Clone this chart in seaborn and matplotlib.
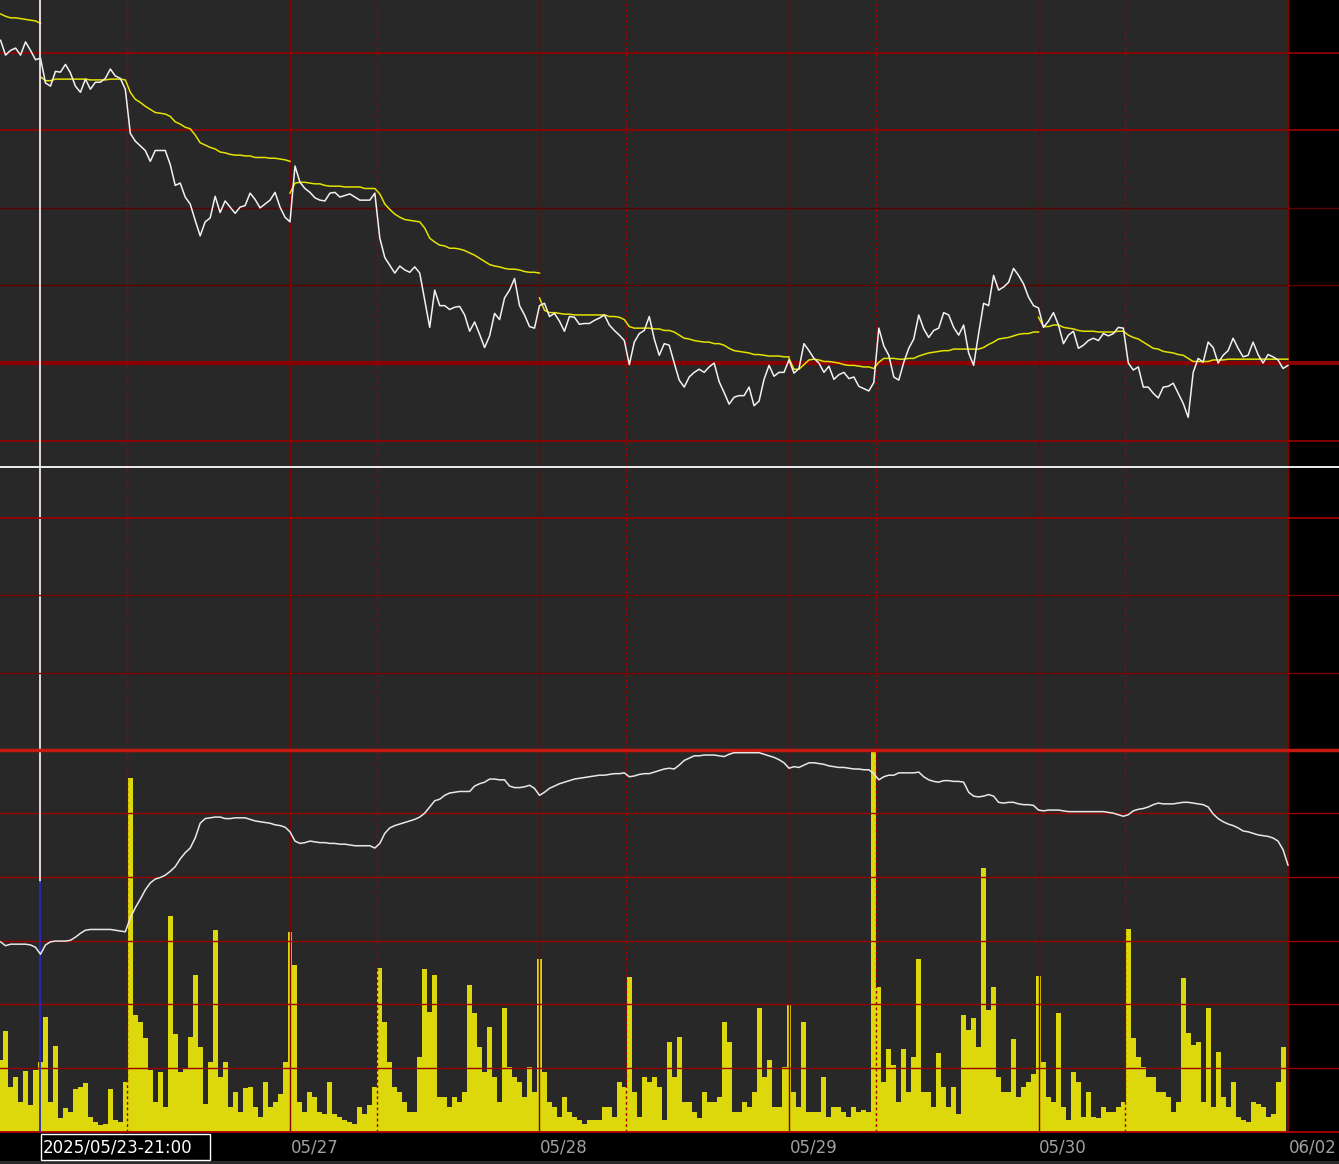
import numpy as np
import pandas as pd
import matplotlib
matplotlib.use("Agg")
import matplotlib.pyplot as plt
from matplotlib.patches import Rectangle
import seaborn as sns

# ---- data, 50 samples per session day ----
# price (white), starts 8 samples before the 05/26 session open
price = [37616, 37597, 37603, 37606, 37597, 37614, 37603, 37591, 37593,
         37561, 37557, 37576, 37575, 37585, 37574, 37557, 37549, 37566, 37553,
         37562, 37562, 37567, 37579, 37570, 37567, 37553, 37496, 37486, 37480,
         37474, 37460, 37474, 37474, 37474, 37456, 37429, 37432, 37414, 37405,
         37384, 37364, 37382, 37387, 37415, 37394, 37409, 37401, 37393, 37401,
         37403, 37419, 37411, 37400, 37405, 37410, 37420, 37401, 37388, 37382,
         37454, 37433, 37425, 37420, 37413, 37410, 37409, 37419, 37420, 37414,
         37416, 37418, 37414, 37410, 37410, 37410, 37419, 37361, 37336, 37326,
         37316, 37325, 37320, 37317, 37324, 37316, 37281, 37246, 37294, 37274,
         37274, 37269, 37272, 37273, 37262, 37241, 37253, 37237, 37220, 37235,
         37264, 37256, 37284, 37294, 37309, 37274, 37262, 37247, 37245, 37274,
         37277, 37260, 37264, 37254, 37241, 37260, 37259, 37250, 37251, 37251,
         37255, 37258, 37262, 37249, 37242, 37236, 37229, 37198, 37227, 37238,
         37242, 37260, 37231, 37210, 37225, 37223, 37200, 37178, 37169, 37182,
         37188, 37192, 37188, 37195, 37200, 37176, 37162, 37147, 37156, 37158,
         37158, 37169, 37145, 37151, 37179, 37197, 37183, 37188, 37188, 37204,
         37187, 37193, 37225, 37216, 37206, 37200, 37188, 37196, 37179, 37185,
         37188, 37180, 37182, 37170, 37167, 37164, 37175, 37245, 37222, 37210,
         37182, 37178, 37201, 37219, 37231, 37262, 37244, 37233, 37242, 37245,
         37265, 37262, 37246, 37236, 37249, 37213, 37197, 37238, 37277, 37274,
         37313, 37294, 37298, 37304, 37322, 37313, 37302, 37285, 37274, 37271,
         37246, 37254, 37265, 37249, 37225, 37236, 37241, 37219, 37223, 37229,
         37232, 37229, 37238, 37235, 37238, 37246, 37245, 37200, 37191, 37195,
         37169, 37169, 37161, 37155, 37169, 37170, 37174, 37161, 37148, 37130,
         37188, 37206, 37201, 37227, 37220, 37200, 37210, 37216, 37232, 37219,
         37208, 37210, 37227, 37211, 37200, 37211, 37208, 37204, 37193, 37197]

# session VWAP (yellow), one list per session, first sample index in vwap_start
vwap_0523 = [37650, 37647, 37645, 37645, 37644, 37643, 37642, 37641, 37638]
vwap_0526 = [37569, 37564, 37564, 37566, 37566, 37566, 37566, 37566, 37566, 37566,
             37565, 37565, 37565, 37565, 37566, 37566, 37566, 37565, 37549, 37540,
             37536, 37531, 37527, 37523, 37522, 37521, 37518, 37511, 37508, 37504,
             37502, 37494, 37484, 37481, 37478, 37476, 37472, 37471, 37469, 37468,
             37468, 37467, 37467, 37465, 37465, 37465, 37464, 37464, 37463, 37462, 37460]
vwap_0527 = [37419, 37432, 37433, 37433, 37432, 37431, 37431, 37429, 37428, 37428,
             37428, 37427, 37427, 37427, 37427, 37425, 37425, 37425, 37418, 37405,
             37398, 37392, 37388, 37385, 37384, 37383, 37382, 37374, 37361, 37356,
             37352, 37351, 37348, 37348, 37347, 37345, 37342, 37339, 37335, 37331,
             37327, 37325, 37324, 37322, 37321, 37321, 37320, 37318, 37317, 37317, 37316]
vwap_0528 = [37284, 37268, 37265, 37265, 37264, 37263, 37263, 37262, 37262, 37262,
             37262, 37262, 37262, 37262, 37260, 37260, 37259, 37256, 37247, 37245,
             37245, 37245, 37245, 37244, 37244, 37242, 37242, 37240, 37236, 37232,
             37231, 37229, 37228, 37227, 37227, 37225, 37225, 37223, 37219, 37216,
             37215, 37214, 37213, 37211, 37211, 37210, 37209, 37209, 37209, 37208, 37208]
vwap_0529 = [37206, 37192, 37192, 37198, 37204, 37205, 37204, 37202, 37202, 37201,
             37200, 37198, 37197, 37197, 37196, 37195, 37195, 37193, 37201, 37206,
             37206, 37206, 37205, 37205, 37206, 37206, 37209, 37211, 37213, 37214,
             37215, 37216, 37216, 37218, 37218, 37218, 37218, 37218, 37218, 37220,
             37224, 37227, 37231, 37232, 37233, 37235, 37237, 37238, 37238, 37240, 37240]
vwap_0530 = [37259, 37247, 37247, 37249, 37249, 37246, 37245, 37244, 37242, 37241,
             37241, 37241, 37240, 37240, 37240, 37240, 37241, 37241, 37236, 37233,
             37231, 37227, 37223, 37219, 37218, 37215, 37214, 37213, 37211, 37210,
             37206, 37202, 37202, 37202, 37202, 37204, 37204, 37204, 37205, 37205,
             37205, 37205, 37205, 37205, 37205, 37205, 37205, 37205, 37205, 37205, 37205]
vwap_sessions = [vwap_0523, vwap_0526, vwap_0527, vwap_0528, vwap_0529, vwap_0530]
vwap_start = [-8, 0, 50, 100, 150, 200]

# white line of the lower pane
oi = [253, 248, 250, 250, 250, 250, 249, 246, 237,
      249, 253, 254, 254, 254, 255, 259, 264, 268, 269,
      269, 269, 269, 269, 268, 267, 266, 284, 297, 308,
      320, 329, 334, 336, 339, 344, 350, 360, 368, 374,
      387, 406, 412, 413, 414, 414, 412, 412, 413, 413,
      413, 411, 409, 408, 407, 406, 404, 403, 401, 395,
      383, 380, 381, 383, 382, 381, 381, 380, 380, 379,
      379, 378, 377, 377, 377, 377, 374, 380, 393, 400,
      403, 405, 407, 409, 411, 414, 419, 427, 435, 437,
      442, 445, 446, 447, 447, 447, 454, 457, 459, 463,
      463, 462, 462, 454, 452, 452, 453, 455, 451, 442,
      446, 451, 454, 457, 459, 461, 463, 464, 465, 466,
      467, 468, 468, 469, 470, 470, 471, 466, 467, 469,
      470, 470, 472, 474, 476, 477, 476, 481, 487, 490,
      493, 493, 494, 494, 494, 493, 492, 495, 497, 497,
      497, 497, 497, 497, 495, 493, 491, 488, 484, 477,
      479, 478, 481, 484, 484, 483, 482, 480, 479, 478,
      478, 477, 476, 476, 475, 475, 470, 462, 466, 468,
      468, 471, 471, 471, 471, 472, 466, 462, 460, 459,
      461, 461, 460, 460, 459, 446, 441, 440, 441, 443,
      441, 433, 432, 433, 433, 431, 430, 430, 429, 423,
      422, 423, 423, 423, 422, 421, 421, 421, 421, 421,
      421, 421, 421, 420, 419, 417, 415, 417, 422, 424,
      425, 427, 430, 432, 431, 431, 431, 432, 433, 433,
      432, 431, 430, 427, 418, 412, 408, 405, 403, 400,
      396, 395, 393, 391, 390, 389, 387, 383, 372, 352]

# volume bars (yellow)
volume = [1130, 1580, 710, 860, 470, 960, 420, 970, 1100,
          1800, 470, 1350, 220, 380, 310, 670, 710, 770, 240,
          160, 110, 130, 670, 190, 160, 780, 5550, 1830, 1720,
          1470, 970, 470, 940, 390, 3390, 1540, 940, 1000, 1490,
          2460, 1330, 440, 1100, 3170, 860, 1100, 390, 630, 310,
          690, 710, 390, 240, 780, 390, 470, 600, 1100, 3130,
          2620, 470, 310, 630, 550, 310, 280, 780, 280, 240,
          190, 160, 130, 390, 280, 420, 710, 2570, 1720, 1100,
          710, 630, 470, 310, 310, 1180, 2550, 1880, 2460, 550,
          550, 390, 550, 470, 630, 2300, 1870, 1330, 940, 1650,
          860, 470, 1940, 1020, 860, 780, 550, 1020, 630, 2710,
          940, 470, 390, 240, 550, 310, 240, 190, 130, 190,
          190, 190, 390, 390, 240, 780, 710, 2430, 630, 240,
          860, 780, 860, 710, 190, 1410, 860, 1490, 470, 470,
          310, 220, 630, 470, 470, 550, 1720, 1410, 310, 310,
          470, 390, 630, 1940, 860, 1130, 390, 390, 1020, 1990,
          630, 390, 1720, 310, 310, 310, 860, 240, 390, 390,
          310, 240, 390, 310, 350, 310, 5950, 2270, 780, 1300,
          1050, 470, 1300, 630, 1180, 2710, 630, 630, 390, 1240,
          710, 390, 710, 280, 1830, 1600, 1790, 1330, 4140, 1910,
          2270, 860, 630, 630, 1460, 550, 710, 780, 910, 2450,
          1100, 550, 470, 1870, 390, 190, 940, 780, 240, 630,
          240, 220, 390, 310, 310, 390, 470, 3180, 1470, 1180,
          1020, 860, 860, 630, 630, 550, 310, 470, 2410, 1550,
          1360, 1410, 470, 1940, 390, 1250, 550, 390, 780, 240,
          190, 160, 470, 440, 390, 240, 280, 780, 1330]

day_labels = ["05/27", "05/28", "05/29", "05/30", "06/02"]
day_pos = [1, 2, 3, 4, 5]
session_marks = [0.347, 1.347, 2.347, 3.347, 4.347]
cursor_label = "2025/05/23-21:00"

price_grid = [37600, 37500, 37100]
price_grid_dim = [37400, 37300]
price_ref = 37200
oi_grid = [800]
oi_grid_dim = [700, 600]
oi_ref = 500
vol_grid = [1000, 2000, 3000, 4000, 5000]

SPD = 50  # samples per day
t_price = np.arange(-8, -8 + len(price)) / SPD
t_oi = np.arange(-8, -8 + len(oi)) / SPD
vol_df = pd.DataFrame({"t": np.arange(-8, -8 + len(volume)) / SPD, "vol": volume})

BG = "#282828"
RED = "#9a0000"
RED_DIM = "#740000"
YEL = "#dcd80c"
XMIN, XMAX = -0.1623, 5.2044

W, H = 1339, 1164
fig = plt.figure(figsize=(W / 100, H / 100), dpi=100, facecolor="black")
ax_top = fig.add_axes([0, 697 / H, 1, 467 / H])
ax_vol = fig.add_axes([0, 32 / H, 1, 664 / H])
ax_oi = ax_vol.twinx()

# ---- lower pane bars first ----
sns.histplot(data=vol_df, x="t", weights="vol", binwidth=1 / SPD,
             binrange=(-8.5 / SPD, (len(volume) - 8.5) / SPD), ax=ax_vol,
             color=YEL, alpha=1, linewidth=0, shrink=1.0, zorder=1)

for ax in (ax_top, ax_vol, ax_oi):
    ax.set_xlim(XMIN, XMAX)
    ax.set_xticks([])
    ax.set_yticks([])
    for s in ax.spines.values():
        s.set_visible(False)
ax_top.set_facecolor(BG)
ax_vol.set_facecolor(BG)
ax_oi.set_facecolor("none")

ax_top.set_ylim(37066, 37668)
ax_vol.set_ylim(0, 10405)
ax_oi.set_ylim(7.7, 864.3)

# black price-scale margin on the right
for ax in (ax_top, ax_vol):
    ax.axvspan(5, XMAX, color="black", zorder=0.5, lw=0)

# ---- top pane ----
for y in price_grid:
    ax_top.axhline(y, color=RED, lw=1.2, zorder=1.5)
for y in price_grid_dim:
    ax_top.axhline(y, color="#5c0000", lw=1, zorder=1.5)
ax_top.axhline(price_ref, color="#8b0000", lw=3, zorder=1.5)

sns.lineplot(x=t_price, y=price, ax=ax_top, color="#f2f2f2", lw=1.1,
             estimator=None, sort=False, zorder=3)
for start, seg in zip(vwap_start, vwap_sessions):
    xs = np.arange(start, start + len(seg)) / SPD
    sns.lineplot(x=xs, y=seg, ax=ax_top, color="#e4e200", lw=1.1,
                 estimator=None, sort=False, zorder=2.5)

# ---- lower pane grid and line ----
for y in vol_grid:
    ax_vol.axhline(y, color=RED, lw=1, zorder=1.5)
for y in oi_grid:
    ax_oi.axhline(y, color=RED, lw=1.3, zorder=1.5)
for y in oi_grid_dim:
    ax_oi.axhline(y, color=RED_DIM, lw=1, zorder=1.5)
ax_oi.axhline(oi_ref, color="#c41a12", lw=2.5, zorder=1.5)
sns.lineplot(x=t_oi, y=oi, ax=ax_oi, color="#e8e8e8", lw=1.1,
             estimator=None, sort=False, zorder=3)

# day / session separators
for ax in (ax_top, ax_vol):
    for x in day_pos:
        ax.axvline(x, color="#800000", lw=1, zorder=1.6)
    for x in session_marks:
        ax.axvline(x, color="#a00000", lw=1, ls=(0, (2, 2)), zorder=1.6)

# cursor
ax_top.axvline(0, color="#f5e6e6", lw=1.3, zorder=4)
ax_vol.axvline(0, ymin=0.3765, ymax=1, color="#f5e6e6", lw=1.3, zorder=4)
ax_vol.axvline(0, ymin=0, ymax=0.3765, color="#2828c8", lw=1.3, zorder=4)

for ax in (ax_top, ax_vol, ax_oi):
    ax.set_xlabel("")
    ax.set_ylabel("")
    ax.set_xlim(XMIN, XMAX)

# pane borders
ax_top.spines["bottom"].set_visible(True)
ax_top.spines["bottom"].set_color("white")
ax_top.spines["bottom"].set_linewidth(1.3)
ax_vol.spines["bottom"].set_visible(True)
ax_vol.spines["bottom"].set_color("#b00000")
ax_vol.spines["bottom"].set_linewidth(1.3)

# x labels
xt = ax_vol.get_xaxis_transform()
for x, lab in zip(day_pos, day_labels):
    ax_vol.text(x + 0.002, -0.0226, lab, transform=xt, ha="left", va="center",
                color="#a0a0a0", fontsize=12, clip_on=False)

# cursor time box
fig.add_artist(Rectangle((40.5 / W, 4 / H), 170 / W, 26 / H, transform=fig.transFigure,
                         fc="black", ec="white", lw=1, zorder=4))
fig.text(43 / W, 17 / H, cursor_label, ha="left", va="center",
         color="white", fontsize=12, zorder=5)

fig.add_artist(Rectangle((0, 0), 1, 3 / H, transform=fig.transFigure,
                         color="#2b2b2b", lw=0, zorder=3))

fig.savefig("out.png", dpi=100, facecolor="black")
